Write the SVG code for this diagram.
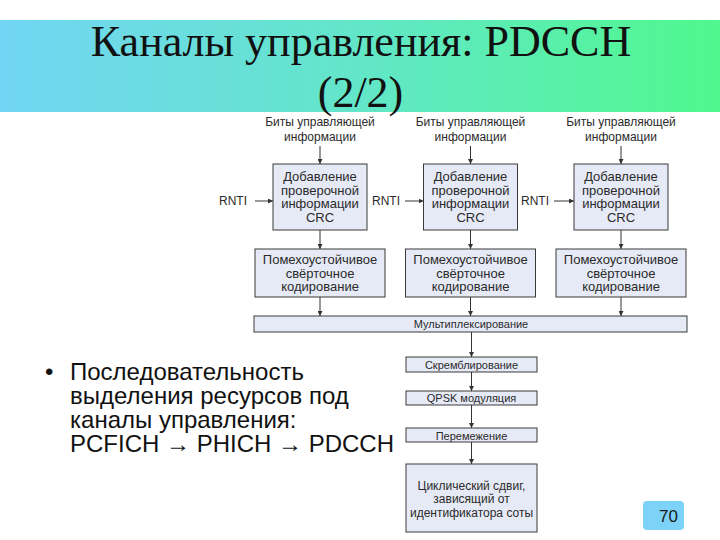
<svg xmlns="http://www.w3.org/2000/svg" width="720" height="540" viewBox="0 0 720 540">
<defs>
<linearGradient id="band" x1="0" y1="0" x2="1" y2="0">
<stop offset="0" stop-color="#72D5F4"/>
<stop offset="0.5" stop-color="#62E6C8"/>
<stop offset="1" stop-color="#50F88E"/>
</linearGradient>
<marker id="ah" viewBox="0 0 10 10" refX="10" refY="5" markerWidth="5" markerHeight="5" markerUnits="userSpaceOnUse" orient="auto"><path d="M0,0 L10,5 L0,10 z" fill="#333"/></marker>
<style>
.box{fill:#E6EAF6;stroke:#3a3a3a;stroke-width:1}
.t{font-family:"Liberation Sans",Arial,sans-serif;font-size:12px;fill:#2b2b2b;text-anchor:middle}
.m{font-size:13px}
.s{font-size:11px}
.c{stroke:#333;stroke-width:1;fill:none;marker-end:url(#ah)}
.bul{font-family:"Liberation Sans",Arial,sans-serif;font-size:24px;fill:#111}
</style>
</defs>
<rect width="720" height="540" fill="#fff"/>
<rect x="0" y="20" width="720" height="92" fill="url(#band)"/>
<g id="title" font-family="Liberation Serif, Times New Roman, DejaVu Serif, serif" font-size="44" fill="#111" text-anchor="middle">
<text x="361" y="56" font-family="Liberation Serif, Times New Roman, DejaVu Serif, serif">Каналы управления: PDCCH</text>
<text x="360.5" y="107" font-family="Liberation Serif, Times New Roman, DejaVu Serif, serif">(2/2)</text>
</g>

<g id="connectors">
<path class="c" d="M320,146 V164"/>
<path class="c" d="M320,230 V249"/>
<path class="c" d="M320,297 V316"/>
<path class="c" d="M470.5,146 V164"/>
<path class="c" d="M470.5,230 V249"/>
<path class="c" d="M470.5,297 V316"/>
<path class="c" d="M621,146 V164"/>
<path class="c" d="M621,230 V249"/>
<path class="c" d="M621,297 V316"/>
<path class="c" d="M255,201 H273"/>
<path class="c" d="M405,201 H423.5"/>
<path class="c" d="M554,201 H574"/>
<path class="c" d="M471.5,332 V357"/>
<path class="c" d="M471.5,372 V391"/>
<path class="c" d="M471.5,405 V428"/>
<path class="c" d="M471.5,442 V464"/>
</g>

<g id="input1"><text class="t"><tspan x="320" y="126">Биты управляющей</tspan><tspan x="320" y="140.5">информации</tspan></text></g>
<g id="input2"><text class="t"><tspan x="470.5" y="126">Биты управляющей</tspan><tspan x="470.5" y="140.5">информации</tspan></text></g>
<g id="input3"><text class="t"><tspan x="621" y="126">Биты управляющей</tspan><tspan x="621" y="140.5">информации</tspan></text></g>

<g id="rnti1"><text class="t" x="233" y="205">RNTI</text></g>
<g id="rnti2"><text class="t" x="386" y="205">RNTI</text></g>
<g id="rnti3"><text class="t" x="535" y="205">RNTI</text></g>

<g id="crc1"><rect class="box" x="273" y="164" width="94" height="66"/><text class="t m"><tspan x="320" y="181">Добавление</tspan><tspan x="320" y="194.5">проверочной</tspan><tspan x="320" y="208">информации</tspan><tspan x="320" y="221.5">CRC</tspan></text></g>
<g id="crc2"><rect class="box" x="423.5" y="164" width="94" height="66"/><text class="t m"><tspan x="470.5" y="181">Добавление</tspan><tspan x="470.5" y="194.5">проверочной</tspan><tspan x="470.5" y="208">информации</tspan><tspan x="470.5" y="221.5">CRC</tspan></text></g>
<g id="crc3"><rect class="box" x="574" y="164" width="94" height="66"/><text class="t m"><tspan x="621" y="181">Добавление</tspan><tspan x="621" y="194.5">проверочной</tspan><tspan x="621" y="208">информации</tspan><tspan x="621" y="221.5">CRC</tspan></text></g>

<g id="code1"><rect class="box" x="255" y="249" width="130" height="48"/><text class="t m"><tspan x="320" y="264">Помехоустойчивое</tspan><tspan x="320" y="277.5">свёрточное</tspan><tspan x="320" y="291">кодирование</tspan></text></g>
<g id="code2"><rect class="box" x="405.5" y="249" width="130" height="48"/><text class="t m"><tspan x="470.5" y="264">Помехоустойчивое</tspan><tspan x="470.5" y="277.5">свёрточное</tspan><tspan x="470.5" y="291">кодирование</tspan></text></g>
<g id="code3"><rect class="box" x="556" y="249" width="130" height="48"/><text class="t m"><tspan x="621" y="264">Помехоустойчивое</tspan><tspan x="621" y="277.5">свёрточное</tspan><tspan x="621" y="291">кодирование</tspan></text></g>

<g id="mux"><rect class="box" x="254" y="316" width="433" height="16"/><text class="t s" x="471" y="328">Мультиплексирование</text></g>
<g id="scramble"><rect class="box" x="406" y="357" width="131" height="15"/><text class="t s" x="471.5" y="368.5">Скремблирование</text></g>
<g id="qpsk"><rect class="box" x="406" y="391" width="131" height="14"/><text class="t s" x="471.5" y="402">QPSK модуляция</text></g>
<g id="interleave"><rect class="box" x="406" y="428" width="131" height="14"/><text class="t s" x="471.5" y="439.5">Перемежение</text></g>
<g id="cyclic"><rect class="box" x="406" y="464" width="131" height="68"/><text class="t"><tspan x="471.5" y="490">Циклический сдвиг,</tspan><tspan x="471.5" y="503">зависящий от</tspan><tspan x="471.5" y="516.5">идентификатора соты</tspan></text></g>

<g id="bullet">
<text class="bul" x="45" y="380">•</text>
<text class="bul"><tspan x="70" y="380">Последовательность</tspan><tspan x="70" y="404">выделения ресурсов под</tspan><tspan x="70" y="428">каналы управления:</tspan><tspan x="70" y="452">PCFICH → PHICH → PDCCH</tspan></text>
</g>

<g id="pagenum">
<rect x="643" y="501" width="41" height="29" rx="4" fill="#7DD3F7"/>
<text x="678" y="522" font-family="Liberation Sans, Arial, sans-serif" font-size="17" fill="#1a1a1a" text-anchor="end">70</text>
</g>
</svg>
